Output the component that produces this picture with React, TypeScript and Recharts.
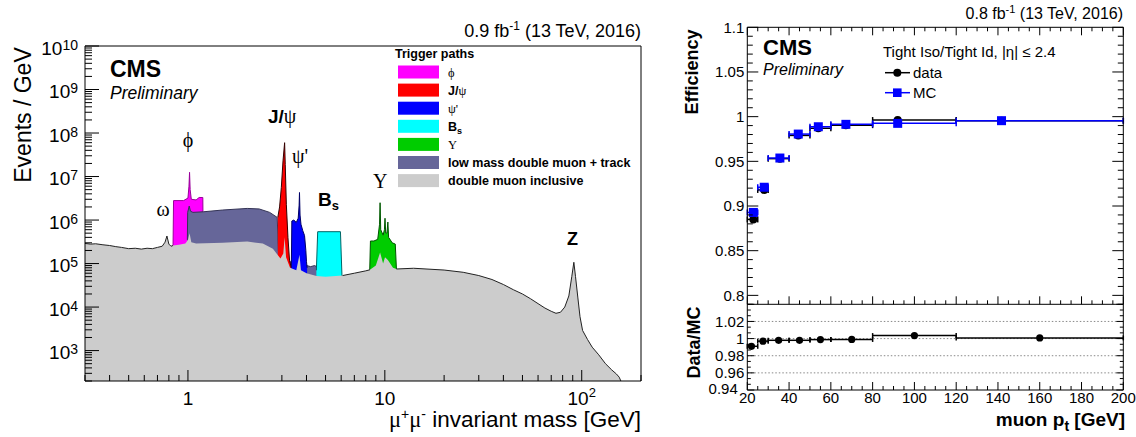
import React from "react";
import {
  ComposedChart,
  Area,
  Line,
  Scatter,
  XAxis,
  YAxis,
  ErrorBar,
  ReferenceLine,
} from "recharts";

const SANS = "'Liberation Sans', Arial, Helvetica, sans-serif";
const SERIF = "'Liberation Serif', 'DejaVu Serif', 'Times New Roman', serif";

// dimuon spectrum, [mass (GeV), events / GeV]
const inclusive: [number, number][] = [
  [0.3, 2.9e5], [0.32, 2.8e5], [0.34, 2.85e5], [0.37, 2.7e5], [0.4, 2.6e5],
  [0.43, 2.45e5], [0.46, 2.35e5], [0.5, 2.2e5], [0.54, 2.25e5], [0.58, 2.15e5],
  [0.62, 2.25e5], [0.66, 2.2e5], [0.7, 2.35e5], [0.74, 2.5e5], [0.765, 3.1e5],
  [0.782, 4.3e5], [0.8, 2.8e5], [0.82, 2.5e5], [0.84, 2.6e5], [0.9, 2.7e5],
  [0.97, 2.9e5], [1.0, 3.5e5], [1.019, 5e5], [1.04, 3.1e5], [1.1, 2.9e5],
  [1.5, 3.0e5], [2.0, 3.2e5], [2.4, 2.9e5], [2.7, 2.2e5], [2.85, 1.6e5],
  [2.95, 1.3e5], [3.05, 1.7e5], [3.097, 4e5], [3.15, 1.4e5], [3.3, 8e4],
  [3.55, 7e4], [3.686, 1.6e5], [3.75, 7e4], [4.0, 6e4], [4.5, 5.2e4],
  [5.0, 5e4], [6.1, 5.3e4], [7.0, 6e4], [8.0, 6.8e4], [8.4, 7.2e4],
  [9.0, 9e4], [9.46, 1.8e5], [9.8, 1e5], [10.02, 1.4e5], [10.36, 1.2e5],
  [11.0, 8e4], [11.45, 7.5e4], [14, 7.8e4], [20, 7.1e4], [25, 6.3e4],
  [30, 5.3e4], [35, 4.3e4], [40, 3.3e4], [45, 2.5e4], [50, 2e4],
  [55, 1.55e4], [60, 1.2e4], [65, 9.5e3], [70, 8e3], [74, 7.2e3],
  [78, 7.6e3], [82, 1e4], [86, 1.8e4], [89, 5e4], [91.2, 1.07e5],
  [93, 5e4], [95.5, 1.7e4], [98, 6e3], [101, 2.9e3], [107, 1.8e3],
  [113, 1.2e3], [122, 800], [132, 500], [142, 360], [150, 290],
  [155, 245], [158, 200],
];
const lowMassTrack: [number, number][] = [
  [0.993, 3.5e5], [0.997, 1.5e6], [1.015, 2.1e6], [1.03, 1.6e6], [1.06, 1.5e6],
  [1.2, 1.55e6], [1.5, 1.7e6], [2.0, 1.85e6], [2.3, 1.8e6], [2.6, 1.5e6],
  [2.84, 1.15e6], [2.88, 2e5], [2.95, 1.5e5], [3.3, 1.1e5], [3.7, 9.5e4],
  [4.0, 9e4], [4.2, 8.5e4], [4.4, 9e4], [4.6, 8e4], [4.75, 7.5e4], [4.78, 5e4],
];
const phiPath: [number, number][] = [
  [0.84, 2.6e5], [0.845, 2.8e6], [0.95, 2.8e6], [1.0, 3.2e6], [1.012, 6e6],
  [1.019, 1.25e7], [1.026, 5e6], [1.04, 3e6], [1.1, 2.9e6], [1.14, 3.3e6],
  [1.19, 3.3e6], [1.195, 2.9e5],
];
const jpsiPath: [number, number][] = [
  [2.86, 1.15e6], [2.92, 2e6], [2.98, 5.6e6], [3.04, 2.3e7], [3.097, 6e7],
  [3.12, 1.9e7], [3.16, 2.3e6], [3.22, 4e5], [3.28, 1.2e5], [3.35, 8e4],
];
const psiPrimePath: [number, number][] = [
  [3.35, 8e4], [3.37, 9.5e5], [3.45, 1e6], [3.55, 8.8e5], [3.63, 1.1e6],
  [3.67, 2.2e6], [3.686, 4.3e6], [3.71, 1.3e6], [3.75, 8e5], [3.83, 5.7e5],
  [3.91, 4.4e5], [3.97, 2e5], [4.0, 1.1e5], [4.03, 8e4],
];
const bsPath: [number, number][] = [
  [4.49, 7e4], [4.56, 5.4e5], [5.95, 5.4e5], [6.06, 5e4],
];
const upsilonPath: [number, number][] = [
  [8.38, 7.2e4], [8.45, 3.3e5], [8.8, 3.3e5], [9.2, 3.6e5], [9.4, 8e5],
  [9.46, 2.5e6], [9.53, 6e5], [9.8, 4.5e5], [9.95, 6e5], [10.02, 1.1e6],
  [10.1, 5e5], [10.25, 5e5], [10.36, 9e5], [10.45, 4e5], [10.9, 3e5],
  [11.3, 2.8e5], [11.45, 7.5e4],
];

const massMajorTicks = [1, 10, 100];
const massMinorTicks = [
  0.3, 0.4, 0.5, 0.6, 0.7, 0.8, 0.9, 2, 3, 4, 5, 6, 7, 8, 9,
  20, 30, 40, 50, 60, 70, 80, 90, 200,
];
const eventsTicks: number[] = [];
for (let k = 2; k <= 9; k++) {
  for (let d = 1; d <= 9; d++) {
    const v = d * 10 ** k;
    if (v >= 200) eventsTicks.push(v);
  }
}
eventsTicks.push(1e10);

// muon efficiency vs pt
const ptBinLo = [20, 25, 30, 40, 50, 60, 80, 120];
const ptBinHi = [25, 30, 40, 50, 60, 80, 120, 200];
const effPt = [22.9, 28.1, 35.6, 44.4, 54, 67.2, 92, 141.7];
const effData = [0.885, 0.918, 0.953, 0.979, 0.987, 0.9905, 0.9962, 0.9955];
const effMC = [0.8928, 0.921, 0.9537, 0.9805, 0.9887, 0.9914, 0.9925, 0.9955];
const ratioPt = [22, 27.5, 35, 45, 55, 70, 100, 160];
const ratioVal = [0.991, 0.997, 0.998, 0.998, 0.9988, 0.999, 1.0035, 1.0008];

const ptTicks: number[] = [];
for (let v = 20; v <= 200; v += 5) ptTicks.push(v);
const effTicks: number[] = [];
for (let i = 0; i <= 31; i++) effTicks.push(+(0.79 + i * 0.01).toFixed(3));
const ratioTicks: number[] = [];
for (let i = 0; i <= 15; i++) ratioTicks.push(+(0.94 + (i * 0.02) / 3).toFixed(5));

// merge the per-path arrays into one table keyed by mass
const massSeries: Record<string, [number, number][]> = {
  inclusive,
  lowMassTrack,
  phi: phiPath,
  jpsi: jpsiPath,
  psiPrime: psiPrimePath,
  bs: bsPath,
  upsilon: upsilonPath,
  edgeA: inclusive.filter(([m]) => m <= 0.84),
  edgeB: inclusive.filter(([m]) => m >= 6.1 && m <= 8.4),
  edgeC: inclusive.filter(([m]) => m >= 11.45),
};
const rowMap = new Map<number, any>();
Object.entries(massSeries).forEach(([key, pts]) => {
  pts.forEach(([m, v]) => {
    const row = rowMap.get(m) ?? { m };
    row[key] = v;
    rowMap.set(m, row);
  });
});
const massRows = [...rowMap.values()].sort((a, b) => a.m - b.m);

const binErr = (x: number, i: number) => [x - ptBinLo[i], ptBinHi[i] - x];
const effDataRows = effPt.map((x, i) => ({ x, y: effData[i], ex: binErr(x, i) }));
const effMCRows = effPt.map((x, i) => ({ x, y: effMC[i], ex: binErr(x, i) }));
const ratioRows = ratioPt.map((x, i) => ({ x, y: ratioVal[i], ex: binErr(x, i) }));

const Blank = () => <g />;

function MassTick({ x, y, payload }: any) {
  const v = payload.value;
  const major = massMajorTicks.includes(v);
  return (
    <g>
      <line x1={x} x2={x} y1={y} y2={y - (major ? 11 : 6)} stroke="#000" />
      {major && (
        <text x={x} y={y + 23.5} textAnchor="middle" fontSize={19} fontFamily={SANS} fill="#000">
          {v === 100 ? (
            <>
              10<tspan dy={-8} fontSize={13}>2</tspan>
            </>
          ) : (
            String(v)
          )}
        </text>
      )}
    </g>
  );
}

function EventsTick({ x, y, payload }: any) {
  const e = Math.log10(payload.value);
  const major = Math.abs(e - Math.round(e)) < 1e-9;
  return (
    <g>
      <line x1={x} x2={x + (major ? 14 : 7)} y1={y} y2={y} stroke="#000" />
      {major && (
        <text x={x - 7} y={y + 8.5} textAnchor="end" fontSize={19} fontFamily={SANS} fill="#000">
          10<tspan dy={-5} fontSize={14}>{Math.round(e)}</tspan>
        </text>
      )}
    </g>
  );
}

const isMult = (v: number, step: number) => Math.abs(v / step - Math.round(v / step)) < 1e-6;

const PtTickUp = ({ x, y, payload }: any) => (
  <line x1={x} x2={x} y1={y} y2={y - (isMult(payload.value, 20) ? 8 : 4)} stroke="#000" />
);
const PtTickDown = ({ x, y, payload }: any) => (
  <line x1={x} x2={x} y1={y} y2={y + (isMult(payload.value, 20) ? 8 : 4)} stroke="#000" />
);
function PtTickLabeled({ x, y, payload }: any) {
  const major = isMult(payload.value, 20);
  return (
    <g>
      <line x1={x} x2={x} y1={y} y2={y - (major ? 8 : 4)} stroke="#000" />
      {major && (
        <text x={x} y={y + 13} textAnchor="middle" fontSize={15} fontFamily={SANS} fill="#000">
          {payload.value}
        </text>
      )}
    </g>
  );
}

function EffTickLeft({ x, y, payload }: any) {
  const v = payload.value;
  const major = isMult(v, 0.05);
  return (
    <g>
      <line x1={x} x2={x + (major ? 11 : 5.5)} y1={y} y2={y} stroke="#000" />
      {major && (
        <text x={x - 3} y={y + 5.4} textAnchor="end" fontSize={15} fontFamily={SANS} fill="#000">
          {String(parseFloat(v.toFixed(2)))}
        </text>
      )}
    </g>
  );
}
const EffTickRight = ({ x, y, payload }: any) => (
  <line x1={x} x2={x - (isMult(payload.value, 0.05) ? 11 : 5.5)} y1={y} y2={y} stroke="#000" />
);

function RatioTickLeft({ x, y, payload }: any) {
  const v = payload.value;
  const major = isMult(v, 0.02);
  // the lowest label is pushed left so it clears the first pt label
  const low = v < 0.95;
  return (
    <g>
      <line x1={x} x2={x + (major ? 7 : 3.5)} y1={y} y2={y} stroke="#000" />
      {major && v < 1.03 && (
        <text
          x={x - (low ? 9.5 : 3)}
          y={y + (low ? 4 : 5.4)}
          textAnchor="end"
          fontSize={15}
          fontFamily={SANS}
          fill="#000"
        >
          {Math.abs(v - 1) < 1e-6 ? "1" : v.toFixed(2)}
        </text>
      )}
    </g>
  );
}
const RatioTickRight = ({ x, y, payload }: any) => (
  <line x1={x} x2={x - (isMult(payload.value, 0.02) ? 7 : 3.5)} y1={y} y2={y} stroke="#000" />
);

const dataDot = (p: any) => <circle cx={p.cx} cy={p.cy} r={4} fill="#000" />;
const ratioDot = (p: any) => <circle cx={p.cx} cy={p.cy} r={3.6} fill="#000" />;
const mcSquare = (p: any) => (
  <rect x={p.cx - 4.5} y={p.cy - 4.5} width={9} height={9} fill="#0000ff" />
);

const frame = { stroke: "#000", strokeWidth: 1 };

function MassSpectrum() {
  const area = (key: string, fill: string, stroke: string) => (
    <Area
      key={key}
      dataKey={key}
      type="linear"
      connectNulls
      baseValue={200}
      fill={fill}
      fillOpacity={1}
      stroke={stroke}
      strokeWidth={1}
      dot={false}
      activeDot={false}
      isAnimationActive={false}
    />
  );
  const edge = (key: string) => (
    <Line
      key={key}
      dataKey={key}
      type="linear"
      connectNulls
      stroke="#222"
      strokeWidth={1}
      dot={false}
      activeDot={false}
      isAnimationActive={false}
    />
  );
  return (
    <ComposedChart
      width={660}
      height={437}
      data={massRows}
      margin={{ top: 46, right: 19, bottom: 56, left: 85 }}
    >
      <XAxis
        dataKey="m"
        type="number"
        scale="log"
        domain={[0.3, 200]}
        allowDataOverflow
        mirror
        height={1}
        ticks={[...massMinorTicks, ...massMajorTicks].sort((a, b) => a - b)}
        interval={0}
        tickSize={0}
        tickMargin={0}
        tickLine={false}
        tick={MassTick}
        axisLine={frame}
      />
      <XAxis
        xAxisId="top"
        orientation="top"
        type="number"
        domain={[0.3, 200]}
        allowDataOverflow
        mirror
        height={1}
        ticks={[1]}
        tickLine={false}
        tick={Blank}
        axisLine={frame}
      />
      <YAxis
        type="number"
        scale="log"
        domain={[200, 1e10]}
        allowDataOverflow
        mirror
        width={1}
        ticks={eventsTicks}
        interval={0}
        tickSize={0}
        tickMargin={0}
        tickLine={false}
        tick={EventsTick}
        axisLine={frame}
      />
      <YAxis
        yAxisId="right"
        orientation="right"
        type="number"
        domain={[0, 1]}
        allowDataOverflow
        mirror
        width={1}
        ticks={[0.5]}
        tickLine={false}
        tick={Blank}
        axisLine={frame}
      />
      {area("phi", "#ff00ff", "#990099")}
      {area("lowMassTrack", "#666699", "#333355")}
      {area("jpsi", "#ff0000", "#330000")}
      {area("psiPrime", "#0000ff", "#000066")}
      {area("bs", "#00ffff", "#006666")}
      {area("upsilon", "#00cc00", "#005500")}
      {area("inclusive", "#cccccc", "none")}
      {edge("edgeA")}
      {edge("edgeB")}
      {edge("edgeC")}
    </ComposedChart>
  );
}

function EfficiencyPanel() {
  return (
    <ComposedChart width={456} height={310} margin={{ top: 27.3, right: 12.7, bottom: 5.7, left: 67.3 }}>
      <XAxis
        dataKey="x"
        type="number"
        domain={[20, 200]}
        allowDataOverflow
        mirror
        height={1}
        ticks={ptTicks}
        interval={0}
        tickSize={0}
        tickMargin={0}
        tickLine={false}
        tick={PtTickUp}
        axisLine={frame}
      />
      <XAxis
        xAxisId="top"
        dataKey="x"
        orientation="top"
        type="number"
        domain={[20, 200]}
        allowDataOverflow
        mirror
        height={1}
        ticks={ptTicks}
        interval={0}
        tickSize={0}
        tickMargin={0}
        tickLine={false}
        tick={PtTickDown}
        axisLine={frame}
      />
      <YAxis
        dataKey="y"
        type="number"
        domain={[0.79, 1.1]}
        allowDataOverflow
        mirror
        width={1}
        ticks={effTicks}
        interval={0}
        tickSize={0}
        tickMargin={0}
        tickLine={false}
        tick={EffTickLeft}
        axisLine={frame}
      />
      <YAxis
        yAxisId="right"
        dataKey="y"
        orientation="right"
        type="number"
        domain={[0.79, 1.1]}
        allowDataOverflow
        mirror
        width={1}
        ticks={effTicks}
        interval={0}
        tickSize={0}
        tickMargin={0}
        tickLine={false}
        tick={EffTickRight}
        axisLine={frame}
      />
      <Scatter data={effDataRows} dataKey="y" shape={dataDot} isAnimationActive={false}>
        <ErrorBar dataKey="ex" direction="x" width={3} stroke="#000" strokeWidth={1.5} />
      </Scatter>
      <Scatter data={effMCRows} dataKey="y" shape={mcSquare} isAnimationActive={false}>
        <ErrorBar dataKey="ex" direction="x" width={3} stroke="#0000ff" strokeWidth={1.5} />
      </Scatter>
    </ComposedChart>
  );
}

function RatioPanel() {
  const dotted = (y: number) => (
    <ReferenceLine key={y} y={y} stroke="#888" strokeWidth={1} strokeDasharray="1.5 2" />
  );
  return (
    <ComposedChart width={456} height={147} margin={{ top: 14.3, right: 12.7, bottom: 47, left: 67.3 }}>
      <XAxis
        dataKey="x"
        type="number"
        domain={[20, 200]}
        allowDataOverflow
        mirror
        height={1}
        ticks={ptTicks}
        interval={0}
        tickSize={0}
        tickMargin={0}
        tickLine={false}
        tick={PtTickLabeled}
        axisLine={frame}
      />
      <YAxis
        dataKey="y"
        type="number"
        domain={[0.94, 1.04]}
        allowDataOverflow
        mirror
        width={1}
        ticks={ratioTicks}
        interval={0}
        tickSize={0}
        tickMargin={0}
        tickLine={false}
        tick={RatioTickLeft}
        axisLine={frame}
      />
      <YAxis
        yAxisId="right"
        dataKey="y"
        orientation="right"
        type="number"
        domain={[0.94, 1.04]}
        allowDataOverflow
        mirror
        width={1}
        ticks={ratioTicks}
        interval={0}
        tickSize={0}
        tickMargin={0}
        tickLine={false}
        tick={RatioTickRight}
        axisLine={frame}
      />
      {[1.02, 1, 0.98, 0.96].map(dotted)}
      <Scatter data={ratioRows} dataKey="y" shape={ratioDot} isAnimationActive={false}>
        <ErrorBar dataKey="ex" direction="x" width={2.5} stroke="#000" strokeWidth={1.5} />
      </Scatter>
    </ComposedChart>
  );
}

const legendRows: { fill: string; label: React.ReactNode }[] = [
  { fill: "#ff00ff", label: <tspan fontFamily={SERIF}>ϕ</tspan> },
  {
    fill: "#ff0000",
    label: (
      <>
        <tspan fontWeight="bold">J/</tspan>
        <tspan fontFamily={SERIF}>ψ</tspan>
      </>
    ),
  },
  { fill: "#0000ff", label: <tspan fontFamily={SERIF}>ψ'</tspan> },
  {
    fill: "#00ffff",
    label: (
      <>
        <tspan fontWeight="bold">B</tspan>
        <tspan fontWeight="bold" fontSize={9} dy={3}>s</tspan>
      </>
    ),
  },
  { fill: "#00cc00", label: <tspan fontFamily={SERIF}>Υ</tspan> },
  { fill: "#666699", label: <tspan fontWeight="bold">low mass double muon + track</tspan> },
  { fill: "#cccccc", label: <tspan fontWeight="bold">double muon inclusive</tspan> },
];

function Annotations() {
  return (
    <svg
      width={1136}
      height={437}
      style={{ position: "absolute", left: 0, top: 0, pointerEvents: "none" }}
      fontFamily={SANS}
      fill="#000"
    >
      {/* left: mass spectrum */}
      <text x={641} y={37} textAnchor="end" fontSize={18}>
        0.9 fb<tspan dy={-7} fontSize={12}>-1</tspan>
        <tspan dy={7}> (13 TeV, 2016)</tspan>
      </text>
      <text x={110} y={77} fontSize={23} fontWeight="bold">CMS</text>
      <text x={110} y={99} fontSize={17.5} fontStyle="italic">Preliminary</text>
      <text transform="translate(31,115) rotate(-90)" textAnchor="middle" fontSize={23}>
        Events / GeV
      </text>
      <text x={641} y={427} textAnchor="end" fontSize={22.5}>
        <tspan fontFamily={SERIF}>μ</tspan>
        <tspan dy={-8} fontSize={14}>+</tspan>
        <tspan dy={8} fontFamily={SERIF}>μ</tspan>
        <tspan dy={-8} fontSize={14}>-</tspan>
        <tspan dy={8}> invariant mass [GeV]</tspan>
      </text>

      <text x={188} y={147} textAnchor="middle" fontSize={20} fontFamily={SERIF}>ϕ</text>
      <text x={163} y={216} textAnchor="middle" fontSize={20} fontFamily={SERIF}>ω</text>
      <text x={268} y={123} fontSize={19}>
        <tspan fontWeight="bold">J/</tspan>
        <tspan fontFamily={SERIF} fontSize={20}>ψ</tspan>
      </text>
      <text x={292} y={163} fontSize={20} fontFamily={SERIF}>ψ'</text>
      <text x={318} y={206} fontSize={19} fontWeight="bold">
        B<tspan fontSize={13} dy={4}>s</tspan>
      </text>
      <text x={373} y={188} fontSize={20} fontFamily={SERIF}>Υ</text>
      <text x={567} y={245} fontSize={18} fontWeight="bold">Z</text>

      <text x={395} y={57.5} fontSize={12.5} fontWeight="bold">Trigger paths</text>
      {legendRows.map((r, i) => {
        const cy = 72 + i * 18.1;
        return (
          <g key={i}>
            <rect x={398} y={cy - 6.5} width={41} height={13} fill={r.fill} />
            <text x={448} y={cy + 4.5} fontSize={12.5}>{r.label}</text>
          </g>
        );
      })}

      {/* right: efficiency */}
      <text x={1123} y={18.5} textAnchor="end" fontSize={16}>
        0.8 fb<tspan dy={-6} fontSize={11}>-1</tspan>
        <tspan dy={6}> (13 TeV, 2016)</tspan>
      </text>
      <text x={763} y={55} fontSize={22} fontWeight="bold">CMS</text>
      <text x={763} y={75} fontSize={16} fontStyle="italic">Preliminary</text>
      <text x={883} y={57} fontSize={15}>Tight Iso/Tight Id, |η| ≤ 2.4</text>
      <line x1={885} x2={910} y1={72.7} y2={72.7} stroke="#000" strokeWidth={1.5} />
      <circle cx={897.3} cy={72.7} r={4} fill="#000" />
      <text x={913} y={78} fontSize={15}>data</text>
      <line x1={885} x2={910} y1={92.7} y2={92.7} stroke="#0000ff" strokeWidth={1.5} />
      <rect x={893} y={88.4} width={8.6} height={8.6} fill="#0000ff" />
      <text x={913} y={98} fontSize={15}>MC</text>
      <text transform="translate(698,72) rotate(-90)" textAnchor="middle" fontSize={18} fontWeight="bold">
        Efficiency
      </text>
      <text transform="translate(700,342.5) rotate(-90)" textAnchor="middle" fontSize={18} fontWeight="bold">
        Data/MC
      </text>
      <text x={1125} y={426} textAnchor="end" fontSize={19} fontWeight="bold">
        muon p<tspan dy={5} fontSize={14}>t</tspan>
        <tspan dy={-5}> [GeV]</tspan>
      </text>
    </svg>
  );
}

export default function App() {
  return (
    <div
      style={{
        position: "absolute",
        left: 0,
        top: 0,
        width: 1136,
        height: 437,
        background: "#fff",
        overflow: "hidden",
      }}
    >
      <div style={{ position: "absolute", left: 0, top: 0 }}>
        <MassSpectrum />
      </div>
      <div style={{ position: "absolute", left: 680, top: 0 }}>
        <EfficiencyPanel />
      </div>
      <div style={{ position: "absolute", left: 680, top: 290 }}>
        <RatioPanel />
      </div>
      <Annotations />
    </div>
  );
}
